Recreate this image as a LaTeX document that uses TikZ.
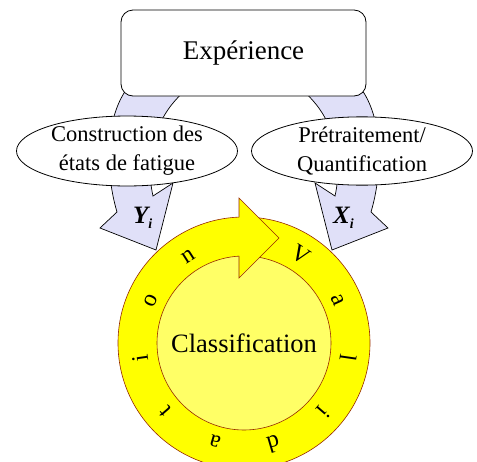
\documentclass[tikz,border=0pt]{standalone}
\usepackage{fontspec}
\setmainfont{Liberation Serif}
\usetikzlibrary{shapes.geometric}
\definecolor{lav}{RGB}{224,224,248}
\definecolor{ringy}{RGB}{255,255,0}
\definecolor{inny}{RGB}{255,255,102}
\definecolor{ringline}{RGB}{150,40,0}
\begin{document}
\begin{tikzpicture}[x=1pt,y=-1pt,
  bluearrow/.style={draw=black, fill=lav, line width=0.7pt, line join=miter},
  boxstyle/.style={draw=black, fill=white, line width=0.8pt, rounded corners=12pt,
    minimum width=245pt, minimum height=86pt, inner sep=0pt,
    font=\fontsize{27}{30}\selectfont},
  ellstyle/.style={ellipse, draw=black, fill=white, line width=0.8pt,
    minimum width=221pt, minimum height=57pt, inner sep=0pt, align=center,
    font=\fontsize{22.5}{29}\selectfont},
  ringouter/.style={circle, draw=ringline, fill=ringy, line width=0.6pt,
    minimum size=252pt, inner sep=0pt},
  ringinner/.style={circle, draw=ringline, fill=inny, line width=0.6pt,
    minimum size=174pt, inner sep=0pt, font=\fontsize{26.5}{30}\selectfont},
  ringletter/.style={font=\fontsize{24}{26}\selectfont, inner sep=0pt, anchor=base},
  varlabel/.style={font=\fontsize{25}{28}\selectfont\bfseries\itshape, inner sep=0pt, anchor=base west}]
\useasboundingbox (0,0) rectangle (477,461);
\clip (0,0) rectangle (477,461);

% blue curved arrows
\path[bluearrow] (126,90) .. controls (104,122) and (106,175) .. (117,212)
  -- (100,228) -- (156,250) -- (173,183) -- (153,196)
  .. controls (146,165) and (150,120) .. (186,90) -- cycle;
\begin{scope}[shift={(488,0)}, xscale=-1]
\path[bluearrow] (126,90) .. controls (104,122) and (106,175) .. (117,212)
  -- (100,228) -- (156,250) -- (173,183) -- (153,196)
  .. controls (146,165) and (150,120) .. (186,90) -- cycle;
\end{scope}

% box and ellipses
\node[boxstyle] (exp) at (243.5,53) {Expérience};
\node[ellstyle] (cons) at (127,151) {Construction des\\états de fatigue};
\node[ellstyle] (pret) at (362,151) {Prétraitement/\\Quantification};

% labels
\node[varlabel] (Y) at (133,223) {Y\raisebox{-5pt}{\fontsize{14}{14}\selectfont i}};
\node[varlabel] (X) at (333,223) {X\raisebox{-5pt}{\fontsize{14}{14}\selectfont i}};

% ring
\node[ringouter] (ring) at (244,343) {};
\node[ringinner] (cls) at (244,343) {Classification};
\path[fill=ringy] (239,217) -- (239,198) -- (279,238) -- (239,277) -- (239,256) -- cycle;
\draw[ringline, line width=0.6pt, line join=miter] (239,217.3) -- (239,198) -- (279,238) -- (239,278) -- (239,255.8);

\foreach \ch [count=\k] in {V,a,l,i,d,a,t,i,o,n} {
  \pgfmathsetmacro\ang{\k*360/11}
  \node[ringletter, rotate=-\ang] (L\k) at ({244+97*sin(\ang)},{343-97*cos(\ang)}) {\ch};
}
\end{tikzpicture}
\end{document}
